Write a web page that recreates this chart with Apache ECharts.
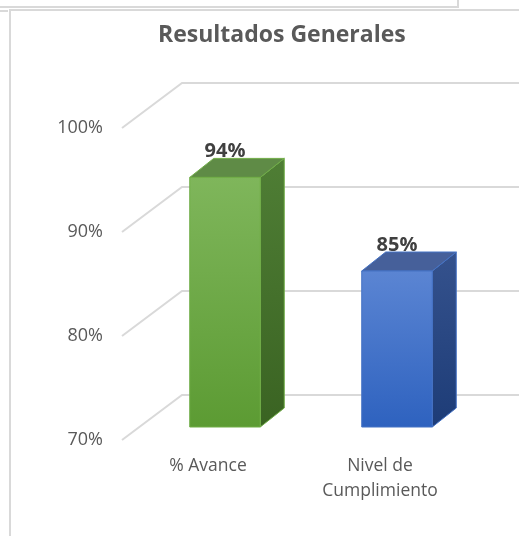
<!DOCTYPE html>
<html lang="es">
<head>
  <meta charset="UTF-8">
  <title>Resultados Generales</title>
  <script src="https://cdn.jsdelivr.net/npm/echarts@6/dist/echarts.min.js"></script>
  <style>
    html, body { margin: 0; padding: 0; background: #fff; }
    #main { width: 519px; height: 536px; }
  </style>
</head>
<body>
<div id="main"></div>

<script>
  // datos
  const categories = ['% Avance', 'Nivel de\nCumplimiento'];
  const values = [94, 85];
  const tickValues = [70, 80, 90, 100];

  // estilos de las barras 3D
  const barColors = [
    { front: ['#7fb65b', '#5c9b33'], side: ['#4f7e35', '#3a6322'], top: '#5f8b46', edge: '#70ad47' },
    { front: ['#5b85d3', '#2e62bf'], side: ['#35528d', '#1d3c77'], top: '#46609a', edge: '#4472c4' }
  ];
  // desplazamientos de profundidad (px)
  const wallDx = 60, wallDy = -45;
  const barOffX = 17, barOffY = -13;
  const barDx = 24, barDy = -19;

  function gridLineItem(params, api) {
    let cs = params.coordSys;
    let y = api.coord([0, api.value(1)])[1];
    let x0 = cs.x;
    return {
      type: 'polyline',
      shape: { points: [[x0, y], [x0 + wallDx, y + wallDy], [x0 + wallDx + 600, y + wallDy]] },
      style: { stroke: '#d9d9d9', lineWidth: 2, fill: null },
      silent: true
    };
  }

  function barItem(params, api) {
    let i = api.value(0);
    let v = api.value(1);
    let top = api.coord([i, v]);
    let base = api.coord([i, tickValues[0]]);
    let band = api.size([1, 0])[0];
    let w = band * 0.41;
    let cx = top[0] + barOffX;
    let l = cx - w / 2, r = cx + w / 2;
    let ty = top[1] + barOffY, by = base[1] + barOffY;
    let c = barColors[i];
    return {
      type: 'group',
      children: [
        {
          type: 'polygon',
          shape: { points: [[r, ty], [r + barDx, ty + barDy], [r + barDx, by + barDy], [r, by]] },
          style: {
            fill: new echarts.graphic.LinearGradient(0, 0, 0, 1, [
              { offset: 0, color: c.side[0] }, { offset: 1, color: c.side[1] }
            ]),
            stroke: c.edge, lineWidth: 1
          }
        },
        {
          type: 'polygon',
          shape: { points: [[l, ty], [l + barDx, ty + barDy], [r + barDx, ty + barDy], [r, ty]] },
          style: { fill: c.top, stroke: c.edge, lineWidth: 1 }
        },
        {
          type: 'rect',
          shape: { x: l, y: ty, width: w, height: by - ty },
          style: {
            fill: new echarts.graphic.LinearGradient(0, 0, 0, 1, [
              { offset: 0, color: c.front[0] }, { offset: 1, color: c.front[1] }
            ]),
            stroke: c.edge, lineWidth: 1
          }
        },
        {
          type: 'text',
          style: {
            x: cx, y: ty - 26,
            text: v + '%',
            fill: '#404040',
            font: 'bold 20px "Open Sans", sans-serif',
            align: 'center', verticalAlign: 'middle'
          }
        }
      ]
    };
  }

  function chartInit() {
    let myChart = echarts.init(document.getElementById('main'), null, { renderer: 'canvas' });
    let option = {
      backgroundColor: '#fff',
      animation: false,
      title: {
        text: 'Resultados Generales',
        left: 153,
        top: 19,
        textStyle: { fontFamily: 'Open Sans', fontSize: 23, fontWeight: 'bold', color: '#595959' }
      },
      grid: { left: 122, right: 53, top: 128, bottom: 96 },
      xAxis: {
        type: 'category',
        data: categories,
        axisLine: { show: false },
        axisTick: { show: false },
        splitLine: { show: false },
        axisLabel: {
          margin: 14,
          fontFamily: 'Open Sans',
          fontSize: 17.5,
          lineHeight: 25,
          color: '#595959'
        }
      },
      yAxis: {
        type: 'value',
        min: 70,
        max: 100,
        interval: 10,
        axisLine: { show: false },
        axisTick: { show: false },
        splitLine: { show: false },
        axisLabel: {
          margin: 19,
          fontFamily: 'Open Sans',
          fontSize: 18,
          color: '#595959',
          formatter: '{value}%'
        }
      },
      graphic: [
        { type: 'polyline', shape: { points: [[0, 7], [458, 7], [458, 0]] }, style: { stroke: '#d9d9d9', lineWidth: 2, fill: null } },
        { type: 'polyline', shape: { points: [[519, 10], [10, 10], [10, 536]] }, style: { stroke: '#d9d9d9', lineWidth: 2, fill: null } },
        { type: 'line', shape: { x1: 0, y1: 11, x2: 8, y2: 11 }, style: { stroke: '#d9d9d9', lineWidth: 2 } }
      ],
      series: [
        {
          type: 'custom',
          renderItem: gridLineItem,
          data: tickValues.map(v => [0, v]),
          encode: { x: 0, y: 1 },
          silent: true,
          z: 1
        },
        {
          type: 'custom',
          renderItem: barItem,
          data: values.map((v, i) => [i, v]),
          encode: { x: 0, y: 1 },
          z: 2
        }
      ]
    };
    myChart.setOption(option, true);
  }

  chartInit();
</script>
</body>
</html>
